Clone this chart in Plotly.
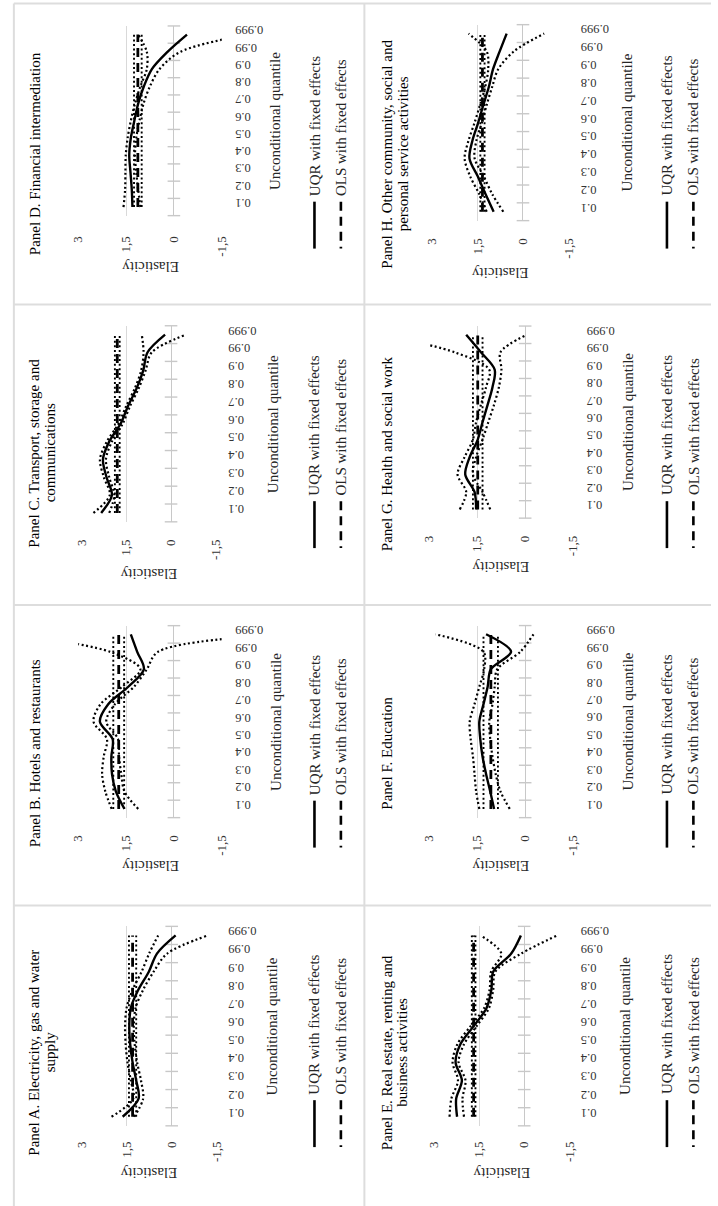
import plotly.graph_objects as go

W, H = 718, 1206
FONT = "Liberation Serif"

quantiles = ["0.1", "0.2", "0.3", "0.4", "0.5", "0.6", "0.7", "0.8", "0.9", "0.99", "0.999"]
elasticity_ticks = [3, 1.5, 0, -1.5]
elasticity_labels = ["3", "1,5", "0", "-1,5"]

# ---- data ----
uqr_A = [1.63, 1.10, 1.18, 1.30, 1.38, 1.41, 1.36, 1.11, 0.76, 0.49, -0.13]
hi_A = [2.00, 1.28, 1.36, 1.47, 1.53, 1.55, 1.50, 1.30, 1.00, 0.75, 0.45]
lo_A = [1.25, 0.95, 1.02, 1.15, 1.23, 1.26, 1.20, 0.95, 0.60, 0.15, -1.20]
ols_A, ols_hi_A, ols_lo_A = 1.30, 1.42, 1.18

uqr_B = [1.55, 1.82, 1.94, 1.96, 1.92, 2.32, 2.06, 1.43, 0.94, 1.15, 1.35]
hi_B = [1.95, 2.15, 2.25, 2.20, 2.10, 2.52, 2.30, 1.62, 1.05, 2.00, 5.00]
lo_B = [1.12, 1.55, 1.65, 1.72, 1.75, 2.12, 1.85, 1.25, 0.85, 0.50, -3.30]
ols_B, ols_hi_B, ols_lo_B = 1.73, 1.90, 1.56

uqr_C = [2.34, 1.98, 2.16, 2.28, 2.07, 1.69, 1.44, 1.15, 0.93, 0.79, 0.20]
hi_C = [2.60, 2.05, 2.25, 2.38, 2.15, 1.76, 1.50, 1.21, 1.00, 0.92, 0.98]
lo_C = [2.07, 1.90, 2.07, 2.18, 1.98, 1.62, 1.37, 1.08, 0.85, 0.65, -0.50]
ols_C, ols_hi_C, ols_lo_C = 1.80, 1.88, 1.72

uqr_D = [1.30, 1.32, 1.36, 1.40, 1.35, 1.24, 1.12, 0.94, 0.69, 0.20, -0.41]
hi_D = [1.58, 1.53, 1.52, 1.51, 1.45, 1.35, 1.22, 1.05, 0.85, 0.85, 1.12]
lo_D = [1.05, 1.12, 1.18, 1.22, 1.18, 1.08, 0.95, 0.75, 0.45, -0.20, -2.30]
ols_D, ols_hi_D, ols_lo_D = 1.13, 1.25, 1.01

uqr_E = [2.23, 2.26, 2.07, 2.28, 2.12, 1.68, 1.25, 1.09, 1.03, 0.43, 0.11]
hi_E = [2.48, 2.42, 2.20, 2.38, 2.22, 1.78, 1.33, 1.15, 1.10, 0.76, 1.45]
lo_E = [2.00, 2.05, 1.95, 2.18, 2.00, 1.58, 1.17, 1.03, 0.96, 0.10, -1.10]
ols_E, ols_hi_E, ols_lo_E = 1.68, 1.74, 1.62

uqr_F = [0.97, 1.09, 1.22, 1.33, 1.40, 1.43, 1.30, 1.17, 1.07, 0.44, 1.22]
hi_F = [1.43, 1.53, 1.58, 1.63, 1.70, 1.73, 1.58, 1.43, 1.28, 1.30, 2.80]
lo_F = [0.48, 0.77, 0.92, 1.02, 1.09, 1.12, 1.02, 0.95, 0.87, 0.15, -0.26]
ols_F, ols_hi_F, ols_lo_F = 1.07, 1.30, 0.85

uqr_G = [1.53, 1.58, 1.87, 1.73, 1.48, 1.33, 1.17, 1.02, 0.95, 1.38, 1.84]
hi_G = [2.04, 1.84, 2.11, 1.89, 1.63, 1.53, 1.38, 1.22, 1.12, 2.20, 4.50]
lo_G = [1.09, 1.33, 1.63, 1.53, 1.33, 1.15, 0.97, 0.82, 0.74, 0.77, -0.05]
ols_G, ols_hi_G, ols_lo_G = 1.48, 1.63, 1.33

uqr_H = [0.97, 1.24, 1.50, 1.77, 1.67, 1.48, 1.31, 1.13, 0.99, 0.77, 0.54]
hi_H = [1.20, 1.45, 1.75, 1.93, 1.80, 1.60, 1.42, 1.25, 1.15, 1.20, 1.80]
lo_H = [0.65, 1.02, 1.30, 1.60, 1.54, 1.36, 1.20, 1.02, 0.82, 0.30, -0.70]
ols_H, ols_hi_H, ols_lo_H = 1.34, 1.41, 1.27

titles = {
    "A": ["Panel A. Electricity, gas and water", "supply"],
    "B": ["Panel B. Hotels and restaurants"],
    "C": ["Panel C. Transport, storage and", "communications"],
    "D": ["Panel D. Financial intermediation"],
    "E": ["Panel E. Real estate, renting and", "business activities"],
    "F": ["Panel F. Education"],
    "G": ["Panel G. Health and social work"],
    "H": ["Panel H. Other community, social and", "personal service activities"],
}
series = {
    "A": (uqr_A, hi_A, lo_A, ols_A, ols_hi_A, ols_lo_A),
    "B": (uqr_B, hi_B, lo_B, ols_B, ols_hi_B, ols_lo_B),
    "C": (uqr_C, hi_C, lo_C, ols_C, ols_hi_C, ols_lo_C),
    "D": (uqr_D, hi_D, lo_D, ols_D, ols_hi_D, ols_lo_D),
    "E": (uqr_E, hi_E, lo_E, ols_E, ols_hi_E, ols_lo_E),
    "F": (uqr_F, hi_F, lo_F, ols_F, ols_hi_F, ols_lo_F),
    "G": (uqr_G, hi_G, lo_G, ols_G, ols_hi_G, ols_lo_G),
    "H": (uqr_H, hi_H, lo_H, ols_H, ols_hi_H, ols_lo_H),
}

# ---- layout geometry (pixels, relative to each table cell) ----
cells = {"D": (0, 0), "C": (0, 300), "B": (0, 600), "A": (0, 900),
         "H": (360, 0), "G": (360, 300), "F": (360, 600), "E": (360, 900)}
geo_small = dict(x3=71.7, xm=218.3, ytop=24.0, ybot=214.0, lab=229, uq=273, el=266, gap=17)
geo_g = dict(x3=70.0, xm=217.3, ytop=24.6, ybot=217.0, lab=228, uq=273, el=266, gap=14)
geo_c = dict(x3=75.0, xm=212.3, ytop=24.3, ybot=220.7, lab=222, uq=270, el=273, gap=14)
geo_h = dict(x3=73.3, xm=212.3, ytop=22.7, ybot=219.0, lab=222, uq=272, el=272, gap=14)
geo_a = dict(x3=75.0, xm=213.3, ytop=25.9, ybot=225.7, lab=222, uq=270, el=273, gap=12)
geos = {"D": geo_small, "B": dict(geo_small, ytop=24.7, ybot=217.0, gap=14),
        "C": geo_c, "A": geo_a, "E": geo_a, "H": geo_h, "G": geo_g, "F": geo_g}


def px(x):
    return x / W


def py(y):
    return 1 - y / H


GRID = "#d9d9d9"
DOT = "2px,2.6px"
DASH = "9px,6px"
fig = go.Figure()
annotations = []
shapes = []
layout_axes = {}
ypos = list(range(len(quantiles)))
bounds = [i - 0.5 for i in range(len(quantiles) + 1)]

for k, name in enumerate(["A", "B", "C", "D", "E", "F", "G", "H"], start=1):
    cx, cy = cells[name]
    g = geos[name]
    uqr, hi, lo, ols, ols_hi, ols_lo = series[name]
    n = len(quantiles)
    xr, yr = f"x{k}", f"y{k}"

    def line_trace(vals, dash, width, smooth=True):
        return go.Scatter(x=vals, y=ypos, xaxis=xr, yaxis=yr, mode="lines",
                          showlegend=False, hoverinfo="skip",
                          line=dict(color="black", width=width, dash=dash,
                                    shape="spline" if smooth else "linear", smoothing=0.9))

    # category axis crossing at 0 with tick marks at category boundaries
    fig.add_trace(go.Scatter(x=[0] * len(bounds), y=bounds, xaxis=xr, yaxis=yr, mode="markers",
                             showlegend=False, hoverinfo="skip", cliponaxis=False,
                             marker=dict(symbol="line-ew", size=9, color="#c8c8c8",
                                         line=dict(width=1.4, color="#c8c8c8"))))
    fig.add_trace(line_trace([ols_hi] * n, DOT, 1.9, False))
    fig.add_trace(line_trace([ols_lo] * n, DOT, 1.9, False))
    fig.add_trace(line_trace([ols] * n, DASH, 2.8, False))
    fig.add_trace(line_trace(hi, DOT, 2.2))
    fig.add_trace(line_trace(lo, DOT, 2.2))
    fig.add_trace(line_trace(uqr, "solid", 2.4))

    x0, x1 = px(cx + g["x3"]), px(cx + g["xm"])
    layout_axes[f"xaxis{k}"] = dict(
        domain=[x0, x1], range=[3, -1.5], anchor=yr, tickmode="array",
        tickvals=elasticity_ticks, ticktext=elasticity_labels, tickangle=-90,
        tickfont=dict(family=FONT, size=13, color="#333333"),
        showgrid=True, gridcolor=GRID, gridwidth=1.3,
        zeroline=True, zerolinecolor="#c8c8c8", zerolinewidth=1.4,
        showline=False, ticks="", ticklabelstandoff=g["gap"], fixedrange=True)
    layout_axes[f"yaxis{k}"] = dict(
        domain=[py(cy + g["ybot"]), py(cy + g["ytop"])], range=[-0.5, len(quantiles) - 0.5],
        anchor="free", position=px(cx + g["lab"] + 3), side="left",
        tickmode="array", tickvals=ypos, ticktext=quantiles, tickangle=180,
        tickfont=dict(family=FONT, size=12.5, color="#333333"),
        showgrid=False, zeroline=False, showline=False, ticks="", fixedrange=True)

    # title (rotated)
    for i, t in enumerate(titles[name]):
        annotations.append(dict(text=t, x=px(cx + 27 + 16 * i), y=py(cy + 152), xref="paper", yref="paper",
                                textangle=-90, showarrow=False, xanchor="center", yanchor="middle",
                                font=dict(family=FONT, size=15, color="black")))
    # axis titles
    annotations.append(dict(text="Unconditional quantile", x=px(cx + g["uq"]), y=(len(quantiles) - 1) / 2,
                            xref="paper", yref=yr, textangle=-90, showarrow=False,
                            xanchor="center", yanchor="middle",
                            font=dict(family=FONT, size=15, color="#262626")))
    annotations.append(dict(text="Elasticity", x=(elasticity_ticks[0] + elasticity_ticks[-1]) / 2,
                            y=py(cy + g["el"]), xref=xr, yref="paper", textangle=180, showarrow=False,
                            xanchor="center", yanchor="middle",
                            font=dict(family=FONT, size=15, color="#262626")))
    # legend (rotated)
    for lx, label, dash in [(313, "UQR with fixed effects", "solid"), (340, "OLS with fixed effects", DASH)]:
        shapes.append(dict(type="line", xref="paper", yref="paper", x0=px(cx + lx), x1=px(cx + lx),
                           y0=py(cy + 200), y1=py(cy + 247),
                           line=dict(color="black", width=2.6, dash=dash)))
        annotations.append(dict(text=label, x=px(cx + lx), y=py(cy + 196), xref="paper", yref="paper",
                                textangle=-90, showarrow=False, xanchor="center", yanchor="bottom",
                                font=dict(family=FONT, size=15, color="#262626")))

# table borders
BORDER = dict(color="#dddddd", width=2)
for yb in [1.5, 303, 604, 905]:
    shapes.append(dict(type="line", xref="paper", yref="paper", x0=px(6), x1=1, y0=py(yb), y1=py(yb), line=BORDER))
for xb in [6, 364]:
    shapes.append(dict(type="line", xref="paper", yref="paper", x0=px(xb), x1=px(xb), y0=py(1.5), y1=0, line=BORDER))

fig.update_layout(width=W, height=H, margin=dict(l=0, r=0, t=0, b=0),
                  paper_bgcolor="white", plot_bgcolor="white", showlegend=False,
                  annotations=annotations, shapes=shapes, **layout_axes)
fig.write_html("out.html")
